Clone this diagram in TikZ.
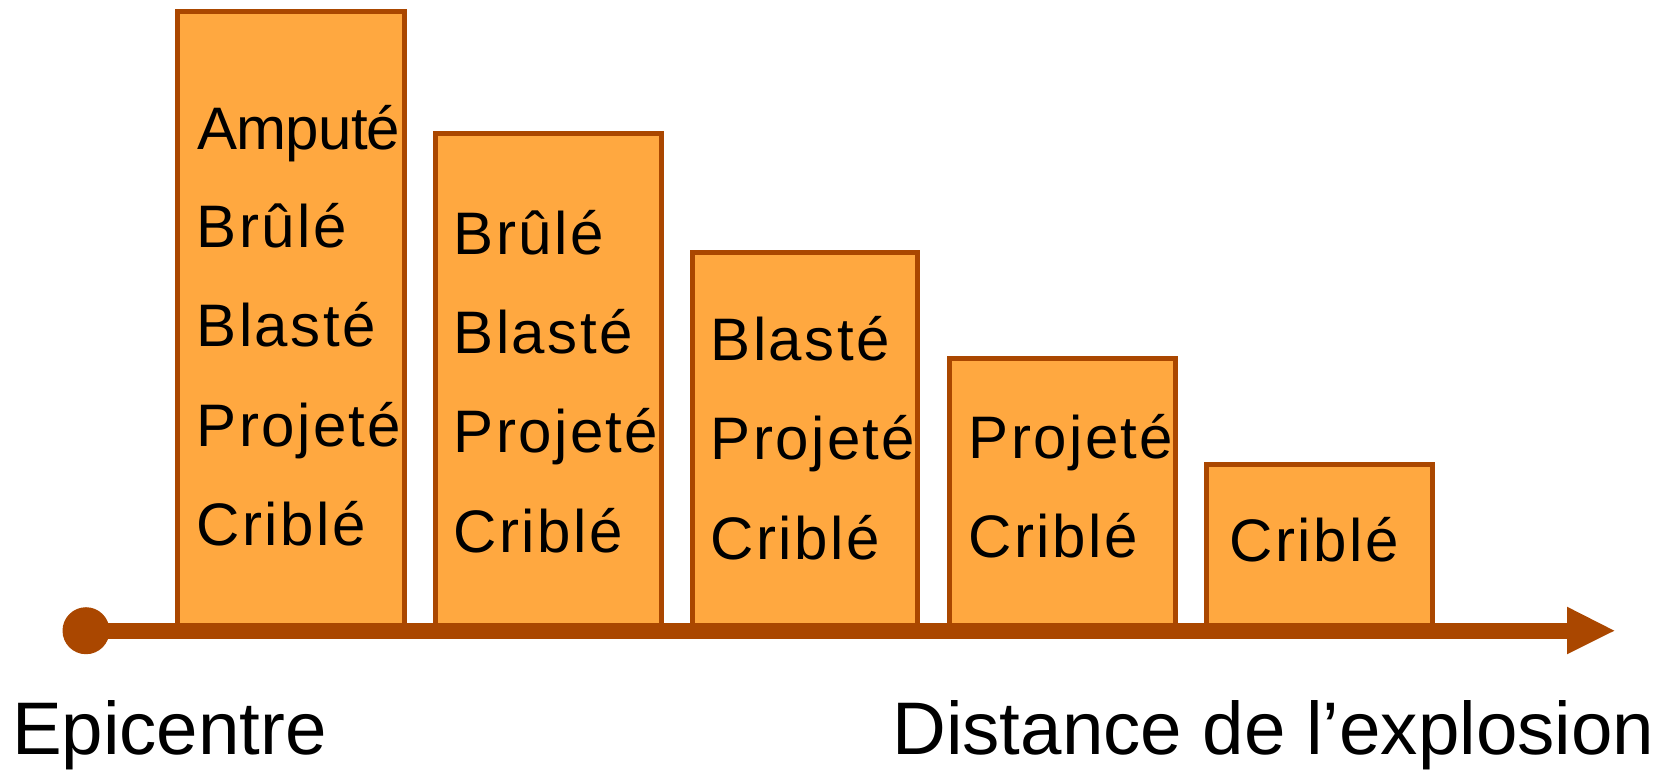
\documentclass[tikz,border=0pt]{standalone}
\usepackage{fontspec}
\setmainfont{Liberation Sans}
\newfontfamily\wordfont[LetterSpace=4]{Liberation Sans}
\newfontfamily\ampfont[LetterSpace=-1.3]{Liberation Sans}
\definecolor{boxfill}{RGB}{255,168,64}
\definecolor{boxline}{RGB}{170,71,0}
\begin{document}
\begin{tikzpicture}[x=0.5pt,y=-0.5pt,
  bar/.style={draw=boxline, fill=boxfill, line width=2.5pt, inner sep=0pt, outer sep=0pt, anchor=north west},
  word/.style={anchor=base west, inner sep=0pt, font=\wordfont\fontsize{30}{36}\selectfont},
  tightword/.style={anchor=base west, inner sep=0pt, font=\ampfont\fontsize{30}{36}\selectfont},
  biglabel/.style={anchor=base west, inner sep=0pt, font=\fontsize{37.25}{44}\selectfont},
  axis/.style={draw=boxline, line width=8pt}]
\useasboundingbox (0,0) rectangle (1663,772);

% bars
\node[bar, minimum width=113.6pt, minimum height=309.85pt] (b1) at (177.3,11.3) {};
\node[bar, minimum width=113.25pt, minimum height=249pt] (b2) at (435.3,133) {};
\node[bar, minimum width=112.5pt, minimum height=189.15pt] (b3) at (692.5,252.7) {};
\node[bar, minimum width=113.2pt, minimum height=136.2pt] (b4) at (949.3,358.6) {};
\node[bar, minimum width=113.15pt, minimum height=83.2pt] (b5) at (1206.5,464.6) {};

% axis
\node[circle, fill=boxline, minimum size=23.5pt, inner sep=0pt, outer sep=0pt] (epi) at (86,630.7) {};
\coordinate (lend) at (1567,630.7);
\coordinate (tip) at (1614.3,630.7);
\draw[axis] (epi.center) -- (lend);
\fill[boxline] (1567,606.7) -- (tip) -- (1567,654.3) -- cycle;

% words, box 1
\node[tightword] (w11) at (197,149) {Amputé};
\node[word] (w12) at (196.5,247.5) {Brûlé};
\node[word] (w13) at (196.5,346.5) {Blasté};
\node[word] (w14) at (196.5,446) {Projeté};
\node[word] (w15) at (196.5,545) {Criblé};
% box 2
\node[word] (w22) at (453.5,254) {Brûlé};
\node[word] (w23) at (453.5,353) {Blasté};
\node[word] (w24) at (453.5,452.5) {Projeté};
\node[word] (w25) at (453.5,552) {Criblé};
% box 3
\node[word] (w33) at (710.5,360.5) {Blasté};
\node[word] (w34) at (710.5,459.5) {Projeté};
\node[word] (w35) at (710.5,559) {Criblé};
% box 4
\node[word] (w44) at (968.5,458) {Projeté};
\node[word] (w45) at (968.5,557) {Criblé};
% box 5
\node[word] (w55) at (1229.5,561.7) {Criblé};

% labels
\node[biglabel] (lepi) at (11.6,754) {Epicentre};
\node[biglabel] (ldist) at (892,754) {Distance de l’explosion};
\end{tikzpicture}
\end{document}
